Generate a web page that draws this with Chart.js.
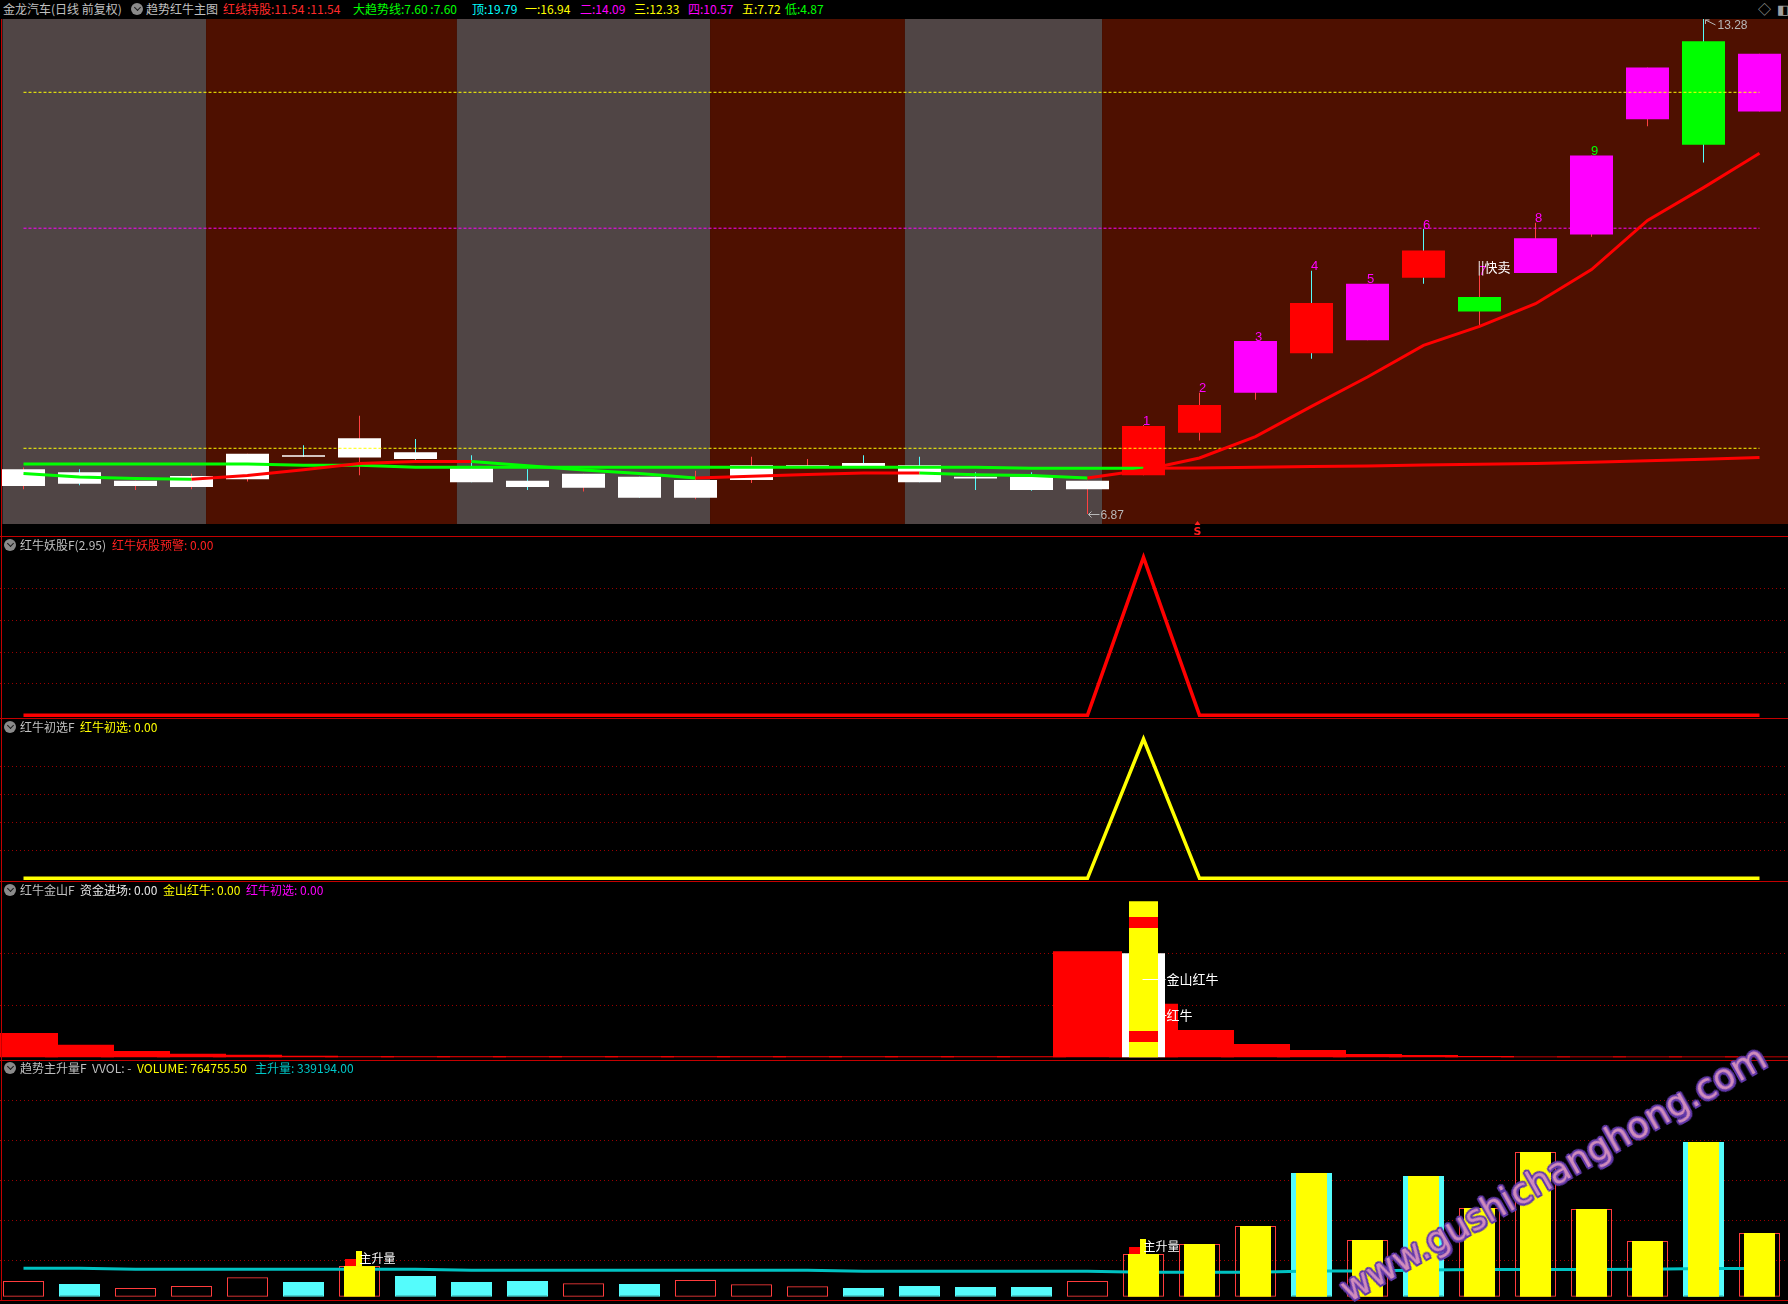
<!DOCTYPE html>
<html>
<head>
<meta charset="utf-8">
<title>金龙汽车 趋势红牛主图</title>
<script src="https://cdn.jsdelivr.net/npm/chart.js@4.4.1/dist/chart.umd.min.js"></script>
<style>
  html, body { margin: 0; padding: 0; background: #000; }
  body { width: 1788px; height: 1304px; position: relative; overflow: hidden;
         font-family: "Noto Sans CJK SC", "DejaVu Sans", sans-serif; }
  canvas { position: absolute; left: 0; }
  .t { position: absolute; font-size: 12px; line-height: 18px; white-space: nowrap; color: #c0c0c0; }
  .sep { position: absolute; left: 0; width: 1788px; height: 1px; background: #c40000; }
  .ic { position: absolute; width: 12px; height: 12px; border-radius: 50%; background: #8a8a8a; }
  .ic::after { content: ''; position: absolute; left: 3.5px; top: 2px; width: 4px; height: 4px;
               border-right: 1.5px solid #1a1a1a; border-bottom: 1.5px solid #1a1a1a; transform: rotate(45deg); }
  #wm { position: absolute; left: 1352px; top: 1272px; font: 36px "DejaVu Sans", sans-serif; line-height: 36px;
        color: #d08cbc; white-space: nowrap; transform-origin: 0 100%; transform: rotate(-29.5deg);
        text-shadow: -2px 0 #6238aa, 2px 0 #6238aa, 0 -2px #6238aa, 0 2px #6238aa,
                     -1.5px -1.5px #6238aa, 1.5px 1.5px #6238aa, -1.5px 1.5px #6238aa, 1.5px -1.5px #6238aa; }
</style>
</head>
<body>
<canvas id="mainChart" width="1788" height="517" style="top:19px"></canvas>
<canvas id="demonChart" width="1788" height="181" style="top:537px"></canvas>
<canvas id="pickChart" width="1788" height="162" style="top:719px"></canvas>
<canvas id="goldChart" width="1788" height="177" style="top:882px"></canvas>
<canvas id="volChart" width="1788" height="239" style="top:1061px"></canvas>

<div class="sep" style="top:536px"></div>
<div class="sep" style="top:718px"></div>
<div class="sep" style="top:881px"></div>
<div class="sep" style="top:1060px"></div>
<div class="sep" style="top:1300px"></div>
<div style="position:absolute;left:1px;top:19px;width:1px;height:1282px;background:#c40000"></div>

<!-- header -->
<span class="t" style="left:3px;top:0">金龙汽车(日线 前复权)</span>
<i class="ic" style="left:131px;top:3px"></i>
<span class="t" style="left:146px;top:0">趋势红牛主图</span>
<span class="t" style="left:223px;top:0;color:#ff2a2a">红线持股:11.54 :11.54</span>
<span class="t" style="left:353px;top:0;color:#00ff00">大趋势线:7.60 :7.60</span>
<span class="t" style="left:472px;top:0;color:#00ffff">顶:19.79</span>
<span class="t" style="left:525px;top:0;color:#ffff00">一:16.94</span>
<span class="t" style="left:580px;top:0;color:#ff00ff">二:14.09</span>
<span class="t" style="left:634px;top:0;color:#ffff00">三:12.33</span>
<span class="t" style="left:688px;top:0;color:#ff00ff">四:10.57</span>
<span class="t" style="left:742px;top:0;color:#ffff00">五:7.72</span>
<span class="t" style="left:785px;top:0;color:#00ff00">低:4.87</span>
<span class="t" style="left:1758px;top:0;color:#a0a0a0;font-size:13px">◇</span>
<span class="t" style="left:1777px;top:0;color:#a0a0a0;font-size:13px">◧</span>

<i class="ic" style="left:4px;top:539px"></i>
<span class="t" style="left:20px;top:536px">红牛妖股F(2.95)</span>
<span class="t" style="left:112px;top:536px;color:#ff2020">红牛妖股预警: 0.00</span>

<i class="ic" style="left:4px;top:721px"></i>
<span class="t" style="left:20px;top:718px">红牛初选F</span>
<span class="t" style="left:80px;top:718px;color:#ffff00">红牛初选: 0.00</span>

<i class="ic" style="left:4px;top:884px"></i>
<span class="t" style="left:20px;top:881px">红牛金山F</span>
<span class="t" style="left:80px;top:881px;color:#e8e8e8">资金进场: 0.00</span>
<span class="t" style="left:163px;top:881px;color:#ffff00">金山红牛: 0.00</span>
<span class="t" style="left:246px;top:881px;color:#ff00ff">红牛初选: 0.00</span>

<i class="ic" style="left:4px;top:1062px"></i>
<span class="t" style="left:20px;top:1059px">趋势主升量F</span>
<span class="t" style="left:92px;top:1059px">VVOL: -</span>
<span class="t" style="left:137px;top:1059px;color:#ffff00">VOLUME: 764755.50</span>
<span class="t" style="left:255px;top:1059px;color:#00c8c8">主升量: 339194.00</span>

<div id="wm">www.gushichanghong.com</div>

<script>
// daily bars, index 0 = leftmost day
const opens  = [7.23, 7.41, 7.23, 7.22, 7.32, 7.63, 7.60, 7.67, 7.46, 7.30, 7.21, 7.35, 7.08, 7.31, 7.48, 7.53,
                7.50, 7.35, 7.35, 7.19, 7.37, 7.92, 8.44, 9.60, 9.12, 10.28, 9.49, 9.99, 10.49, 11.98, 12.99, 12.08];
const closes = [7.45, 7.26, 7.30, 7.36, 7.65, 7.61, 7.85, 7.58, 7.28, 7.22, 7.39, 7.08, 7.31, 7.50, 7.50, 7.49,
                7.28, 7.33, 7.18, 7.30, 8.01, 8.28, 9.11, 8.95, 9.85, 9.93, 9.68, 10.44, 11.51, 12.65, 11.65, 12.83];
const highs  = [7.47, 7.45, 7.30, 7.39, 7.65, 7.76, 8.14, 7.84, 7.63, 7.45, 7.39, 7.35, 7.43, 7.61, 7.58, 7.63,
                7.61, 7.41, 7.41, 7.30, 8.02, 8.44, 9.11, 10.02, 9.85, 10.56, 9.96, 10.64, 11.51, 12.65, 13.28, 12.83];
const lows   = [7.19, 7.24, 7.18, 7.19, 7.29, 7.61, 7.37, 7.57, 7.28, 7.18, 7.16, 7.08, 7.06, 7.27, 7.48, 7.49,
                7.28, 7.18, 7.17, 6.87, 7.37, 7.82, 8.35, 8.88, 9.12, 9.85, 9.30, 9.99, 10.46, 11.89, 11.42, 12.08];
// body signal: w = no signal, r = hold, m = strong, g = warning
const bodyKinds = ['w','w','w','w','w','w','w','w','w','w','w','w','w','w','w','w','w','w','w','w',
                   'r','r','m','r','m','r','g','m','m','m','g','m'];

// 红线持股 (red when rising, green when falling)
const trendLine = [7.395, 7.348, 7.329, 7.318, 7.368, 7.441, 7.523, 7.55, 7.55, 7.493, 7.439, 7.393, 7.335, 7.357,
                   7.380, 7.400, 7.400, 7.378, 7.368, 7.335, 7.44, 7.595, 7.871, 8.263, 8.643, 9.052, 9.298, 9.592,
                   10.034, 10.671, 11.095, 11.54];
// 大趋势线
const bigTrend = [7.515, 7.515, 7.515, 7.515, 7.515, 7.50, 7.50, 7.475, 7.475, 7.475, 7.475, 7.475, 7.475, 7.475,
                  7.475, 7.475, 7.475, 7.475, 7.46, 7.46, 7.46, 7.465, 7.475, 7.485, 7.49, 7.503, 7.513, 7.523,
                  7.539, 7.559, 7.577, 7.60];

// level lines from the header
const levelNames  = ['顶', '一', '二', '三', '四', '五', '低'];
const levelValues = [19.79, 16.94, 14.09, 12.33, 10.57, 7.72, 4.87];

const signalIdx = 20;      // red-bull signal day
const countLabels = ['1', '2', '3', '4', '5', '6', '7', '8', '9'];
const countStart = 20;
const sellMarkIdx = 21;    // S
const quickSellIdx = 26;   // 快卖
// background state changes, in day units
const bandEdges = [-0.375, 3.26, 7.74, 12.26, 15.74, 19.26, 31.51];

// sub panels
const demonAlert = [0,0,0,0,0,0,0,0,0,0,0,0,0,0,0,0,0,0,0,0,1,0,0,0,0,0,0,0,0,0,0,0];
const bullPick   = [0,0,0,0,0,0,0,0,0,0,0,0,0,0,0,0,0,0,0,0,1,0,0,0,0,0,0,0,0,0,0,0];
const fundBars   = [0.467, 0.24, 0.121, 0.067, 0.048, 0.029, 0.02, 0.02, 0.02, 0.02, 0.02, 0.02, 0.02, 0.02, 0.02,
                    0.02, 0.02, 0.02, 0.02, 2.04, 1.03, 0.525, 0.256, 0.14, 0.063, 0.044, 0.025, 0.015, 0.015,
                    0.015, 0.015, 0.015];
const fundEntryValue = 2.0;
const goldBullValue = 3.0;
const goldBullStripes = [[0.294, 0.506], [2.487, 2.698]];

const volumes = [188000, 152000, 104000, 128000, 233000, 176000, 368000, 248000, 176000, 188000, 160000, 152000,
                 200000, 149000, 125000, 104000, 128000, 116000, 116000, 188000, 513000, 633000, 849000, 1485000,
                 681000, 1449000, 1065000, 1737000, 1053000, 669000, 1857000, 764755.5];
const volMa = [341000, 341000, 329000, 329000, 329000, 329000, 329000, 329000, 317000, 317000, 317000, 317000,
               317000, 317000, 317000, 306000, 306000, 306000, 306000, 306000, 293000, 293000, 293000, 309000,
               309000, 321000, 327000, 327000, 327000, 329000, 339194, 339194];
const mainRiseDays = [6, 20, 21, 22, 23, 24, 25, 26, 27, 28, 29, 30, 31];

// shared x mapping: 56px per day, first day centred at 23.5px
const xMin = -23.5 / 56;
const xMax = xMin + 1788 / 56;

const RED = '#ff0000', GREEN = '#00ff00', MAGENTA = '#ff00ff', YELLOW = '#ffff00', CYAN = '#54fcfc';
const bodyColors = {w: '#ffffff', r: RED, m: MAGENTA, g: GREEN};
const levelColors = {'顶': '#00ffff', '一': YELLOW, '二': MAGENTA, '三': YELLOW, '四': MAGENTA, '五': YELLOW, '低': GREEN};
const isUp = i => closes[i] >= opens[i];
const pts = arr => arr.map((v, i) => ({x: i, y: v}));

function makeOptions(yScale) {
    return {
        responsive: false, animation: false, devicePixelRatio: 1, events: [],
        layout: {padding: 0, autoPadding: false},
        plugins: {legend: {display: false}, tooltip: {enabled: false}},
        scales: {
            x: {type: 'linear', min: xMin, max: xMax, offset: false, display: false},
            y: yScale
        }
    };
}

function gridScale(min, max, step, lo, hi) {
    return {
        min: min, max: max, display: true,
        ticks: {display: false, stepSize: step},
        grid: {drawTicks: false, lineWidth: 1,
               color: c => (c.tick && c.tick.value > lo && c.tick.value < hi) ? '#9a0000' : 'rgba(0,0,0,0)'},
        border: {display: false, dash: [1, 3]}
    };
}

// background bands behind the candles
const bandPlugin = {
    id: 'bands',
    beforeDatasetsDraw(chart) {
        const {ctx, chartArea} = chart;
        const xs = chart.scales.x;
        const bottom = chartArea.bottom - 12;
        ctx.save();
        for (let k = 0; k < bandEdges.length - 1; k++) {
            const x0 = xs.getPixelForValue(bandEdges[k]);
            const x1 = xs.getPixelForValue(bandEdges[k + 1]);
            ctx.fillStyle = k % 2 === 0 ? '#504545' : '#4e1000';
            ctx.fillRect(x0, chartArea.top, x1 - x0, bottom - chartArea.top);
        }
        ctx.restore();
    }
};

// count numbers, extremes, sell marks on the price panel
const priceMarks = {
    id: 'priceMarks',
    afterDatasetsDraw(chart) {
        const {ctx, chartArea} = chart;
        const xs = chart.scales.x, ys = chart.scales.y;
        ctx.save();
        ctx.textBaseline = 'middle';
        ctx.textAlign = 'center';
        ctx.font = '13px "Liberation Sans"';
        countLabels.forEach((t, k) => {
            const i = countStart + k;
            ctx.fillStyle = t === '9' ? GREEN : MAGENTA;
            ctx.fillText(t, xs.getPixelForValue(i) + 3, ys.getPixelForValue(highs[i]) - 4);
        });

        ctx.textAlign = 'left';
        ctx.fillStyle = '#ffffff';
        ctx.font = '13px "Noto Sans CJK SC"';
        ctx.fillText('||快卖', xs.getPixelForValue(quickSellIdx) - 2, ys.getPixelForValue(highs[quickSellIdx]) - 8);

        // lowest low and highest high
        const hiIdx = highs.indexOf(Math.max(...highs));
        const loIdx = lows.indexOf(Math.min(...lows));
        ctx.strokeStyle = ctx.fillStyle = '#b8b8b8';
        ctx.lineWidth = 1;
        ctx.font = '12px "Liberation Sans"';
        let x = xs.getPixelForValue(loIdx), y = Math.round(ys.getPixelForValue(lows[loIdx])) + 0.5;
        ctx.beginPath();
        ctx.moveTo(x + 1, y); ctx.lineTo(x + 12, y);
        ctx.moveTo(x + 4, y - 3); ctx.lineTo(x + 1, y); ctx.lineTo(x + 4, y + 3);
        ctx.stroke();
        ctx.fillText(lows[loIdx].toFixed(2), x + 13, y + 1);

        x = xs.getPixelForValue(hiIdx); y = ys.getPixelForValue(highs[hiIdx]);
        ctx.beginPath();
        ctx.moveTo(x + 12, y + 6); ctx.lineTo(x + 2, y + 1);
        ctx.moveTo(x + 2, y + 5); ctx.lineTo(x + 2, y + 1); ctx.lineTo(x + 6, y + 1);
        ctx.stroke();
        ctx.fillText(highs[hiIdx].toFixed(2), x + 14, y + 7);

        // S mark under the price panel
        x = xs.getPixelForValue(sellMarkIdx) - 2;
        y = chartArea.bottom - 5;
        ctx.fillStyle = '#ff2020';
        ctx.font = 'bold 11px "DejaVu Sans"';
        ctx.textAlign = 'center';
        ctx.fillText('S', x, y + 1);
        ctx.beginPath();
        ctx.moveTo(x - 3, y - 6); ctx.lineTo(x + 3, y - 6); ctx.lineTo(x, y - 10);
        ctx.closePath(); ctx.fill();
        ctx.restore();
    }
};

const levelSets = levelNames.map((n, k) => ({
    type: 'line',
    data: [{x: 0, y: levelValues[k]}, {x: trendLine.length - 1, y: levelValues[k]}],
    borderColor: levelColors[n], borderWidth: 1, borderDash: [3, 2],
    pointRadius: 0, order: 2
}));

new Chart(document.getElementById('mainChart'), {
    type: 'line',
    data: {
        datasets: [
            {
                type: 'line', data: pts(trendLine), borderWidth: 3, pointRadius: 0, tension: 0, order: 0,
                borderColor: RED,
                segment: {borderColor: c => c.p1.parsed.y >= c.p0.parsed.y ? RED : GREEN}
            },
            {
                type: 'line', data: pts(bigTrend), borderWidth: 3, pointRadius: 0, tension: 0, order: 1,
                borderColor: RED,
                segment: {borderColor: c => c.p1DataIndex <= signalIdx ? GREEN : RED}
            },
            ...levelSets,
            {
                type: 'bar', order: 3, grouped: false, barThickness: 43, inflateAmount: 0,
                data: opens.map((o, i) => ({x: i, y: [o, closes[i]]})),
                backgroundColor: bodyKinds.map(k => bodyColors[k])
            },
            {
                type: 'bar', order: 4, grouped: false, barThickness: 1, inflateAmount: 0,
                data: lows.map((l, i) => ({x: i, y: [l, highs[i]]})),
                backgroundColor: opens.map((o, i) => isUp(i) ? '#ff4040' : CYAN)
            }
        ]
    },
    options: makeOptions({min: 6.5841, max: 13.2792, display: false}),
    plugins: [bandPlugin, priceMarks]
});

new Chart(document.getElementById('demonChart'), {
    type: 'line',
    data: {datasets: [{data: pts(demonAlert), borderColor: RED, borderWidth: 3.5, pointRadius: 0, tension: 0}]},
    options: makeOptions(gridScale(-0.01773, 1.12856, 0.2, 0.01, 0.99))
});

new Chart(document.getElementById('pickChart'), {
    type: 'line',
    data: {datasets: [{data: pts(bullPick), borderColor: YELLOW, borderWidth: 3.5, pointRadius: 0, tension: 0}]},
    options: makeOptions(gridScale(-0.01938, 1.14357, 0.2, 0.01, 0.99))
});

const goldMarks = {
    id: 'goldMarks',
    afterDatasetsDraw(chart) {
        const {ctx} = chart;
        const xs = chart.scales.x, ys = chart.scales.y;
        const x = xs.getPixelForValue(signalIdx);
        ctx.save();
        ctx.strokeStyle = ctx.fillStyle = '#ffffff';
        ctx.lineWidth = 1;
        ctx.font = '13px "Noto Sans CJK SC"';
        ctx.textBaseline = 'middle';
        let y = Math.round(ys.getPixelForValue(1.5)) + 0.5;
        ctx.beginPath(); ctx.moveTo(x - 1, y); ctx.lineTo(x + 22, y); ctx.stroke();
        ctx.fillText('金山红牛', x + 23, y);
        y = Math.round(ys.getPixelForValue(0.81)) + 0.5;
        ctx.beginPath(); ctx.moveTo(x + 18, y); ctx.lineTo(x + 23, y); ctx.stroke();
        ctx.fillText('红牛', x + 23, y);
        ctx.restore();
    }
};

new Chart(document.getElementById('goldChart'), {
    type: 'line',
    data: {
        datasets: [
            {type: 'bar', order: 1, grouped: false, barThickness: 29, inflateAmount: 0,
             data: goldBullStripes.map(s => ({x: signalIdx, y: s})), backgroundColor: RED},
            {type: 'bar', order: 2, grouped: false, barThickness: 29, inflateAmount: 0,
             data: [{x: signalIdx, y: goldBullValue}], backgroundColor: YELLOW},
            {type: 'bar', order: 3, grouped: false, barThickness: 43, inflateAmount: 0,
             data: [{x: signalIdx, y: fundEntryValue}], backgroundColor: '#ffffff'},
            {type: 'bar', order: 4, grouped: false, barThickness: 69, inflateAmount: 0,
             data: pts(fundBars), backgroundColor: RED}
        ]
    },
    options: makeOptions(gridScale(-0.0327, 3.3712, 1, 0.5, 2.5)),
    plugins: [goldMarks]
});

const riseSet = new Set(mainRiseDays);
const volMarks = {
    id: 'volMarks',
    afterDatasetsDraw(chart) {
        const {ctx} = chart;
        const xs = chart.scales.x, ys = chart.scales.y;
        ctx.save();
        ctx.font = '12px "Noto Sans CJK SC"';
        ctx.textBaseline = 'middle';
        mainRiseDays.filter(i => !riseSet.has(i - 1)).forEach(i => {
            const x = xs.getPixelForValue(i), top = Math.round(ys.getPixelForValue(volumes[i]));
            ctx.fillStyle = RED;
            ctx.fillRect(Math.round(x - 15), top - 7, 11, 7);
            ctx.fillStyle = YELLOW;
            ctx.fillRect(Math.round(x - 4), top - 15, 6, 15);
            ctx.fillStyle = '#ffffff';
            ctx.fillText('主升量', x, top - 8);
        });
        ctx.restore();
    }
};

new Chart(document.getElementById('volChart'), {
    type: 'line',
    data: {
        datasets: [
            {type: 'bar', order: 1, grouped: false, barThickness: 31, inflateAmount: 0,
             data: mainRiseDays.map(i => ({x: i, y: volumes[i]})), backgroundColor: YELLOW},
            {type: 'line', order: 2, data: pts(volMa), borderColor: '#00c2c2', borderWidth: 3,
             pointRadius: 0, tension: 0},
            {type: 'bar', order: 3, grouped: false, barThickness: 41, inflateAmount: 0, borderWidth: 1,
             borderSkipped: false, data: pts(volumes),
             backgroundColor: volumes.map((v, i) => isUp(i) ? 'rgba(0,0,0,0)' : CYAN),
             borderColor: volumes.map((v, i) => isUp(i) ? '#ff3c3c' : CYAN)}
        ]
    },
    options: makeOptions(gridScale(-39620, 2829814, 491000, 1000, 2600000)),
    plugins: [volMarks]
});
</script>
</body>
</html>
